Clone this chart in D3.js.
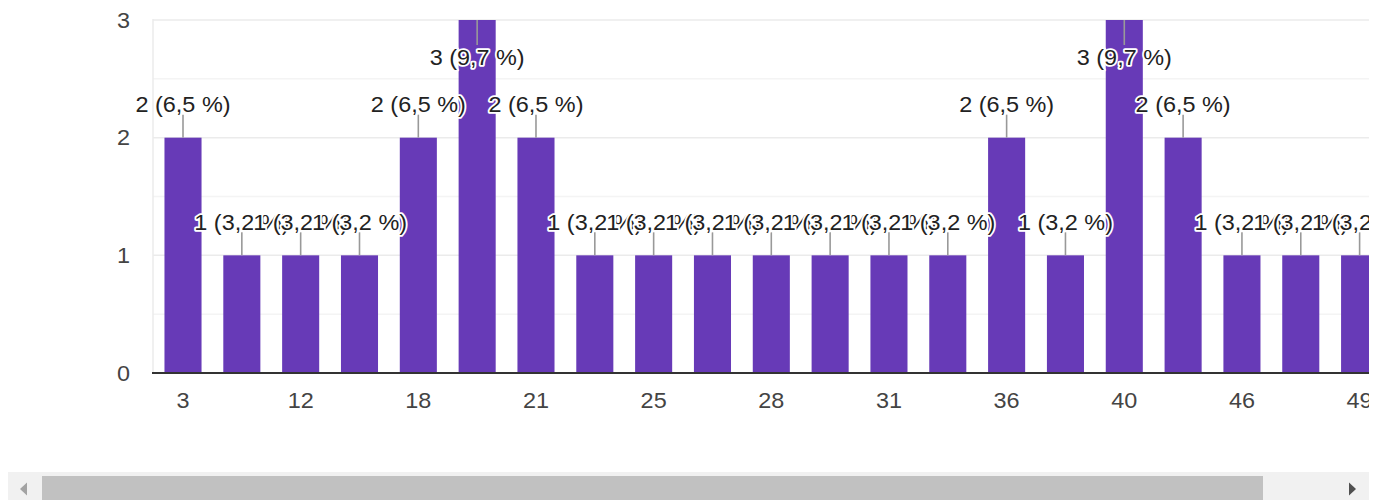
<!DOCTYPE html>
<html>
<head>
<meta charset="utf-8">
<script src="https://d3js.org/d3.v7.min.js"></script>
<style>
  body { margin: 0; background: #fff; }
  text { font-family: Arial, "Liberation Sans", sans-serif; font-size: 21.5px; }
</style>
</head>
<body>
<svg id="chart" width="1385" height="500"></svg>
<script>
// answers (hidden labels in between are guessed) and how many times each was given
var categories = ["3", "10", "12", "15", "18", "20", "21", "22", "25", "27", "28",
                  "30", "31", "35", "36", "38", "40", "45", "46", "48", "49", "50"];
var counts = [2, 1, 1, 1, 2, 3, 2, 1, 1, 1, 1, 1, 1, 1, 2, 1, 3, 2, 1, 1, 1, 1];
var yTicks = [0, 1, 2, 3];
var yMinor = [0.5, 1.5, 2.5];

var total = d3.sum(counts);
var maxCount = d3.max(counts);
var sx = 1.09;   // the source picture is a bit stretched sideways

var svg = d3.select("#chart");

svg.append("defs").append("clipPath").attr("id", "plotClip")
  .append("rect").attr("x", 0).attr("y", 0).attr("width", 1369).attr("height", 440);

var left = 153, step = 58.83, pin = 0.37, pout = 0.195;
var x = d3.scaleBand()
  .domain(categories)
  .range([left, left + step * (categories.length - pin + 2 * pout)])
  .paddingInner(pin)
  .paddingOuter(pout);

var y = d3.scaleLinear().domain([0, 3]).range([373, 20]);

var g = svg.append("g").attr("clip-path", "url(#plotClip)");

// grid
g.selectAll(".minor").data(yMinor).enter().append("line")
  .attr("x1", left).attr("x2", 1369)
  .attr("y1", function(d) { return y(d); }).attr("y2", function(d) { return y(d); })
  .attr("stroke", "#f4f4f4").attr("stroke-width", 1.5);

g.selectAll(".major").data(yTicks.slice(1)).enter().append("line")
  .attr("x1", left).attr("x2", 1369)
  .attr("y1", function(d) { return y(d); }).attr("y2", function(d) { return y(d); })
  .attr("stroke", "#ebebeb").attr("stroke-width", 1.5);

g.append("line")
  .attr("x1", left).attr("x2", left)
  .attr("y1", y(3) - 1).attr("y2", y(0))
  .attr("stroke", "#ebebeb").attr("stroke-width", 1.5);

// bars
g.selectAll(".bar").data(categories).enter().append("rect")
  .attr("x", function(d) { return x(d); })
  .attr("y", function(d, i) { return y(counts[i]); })
  .attr("width", x.bandwidth())
  .attr("height", function(d, i) { return y(0) - y(counts[i]); })
  .attr("fill", "#673ab7");

// baseline
g.append("line")
  .attr("x1", left - 1).attr("x2", 1369)
  .attr("y1", y(0)).attr("y2", y(0))
  .attr("stroke", "#333").attr("stroke-width", 2);

// x tick labels, every other one
g.selectAll(".xt").data(categories.filter(function(d, i) { return i % 2 == 0; })).enter().append("text")
  .attr("transform", function(d) { return "translate(" + (x(d) + x.bandwidth() / 2) + ",408) scale(" + sx + ",1)"; })
  .attr("text-anchor", "middle")
  .attr("fill", "#444")
  .text(function(d) { return d; });

// value labels with leader lines
function pct(v) {
  return d3.format(".1f")(v / total * 100).replace(".", ",");
}

categories.forEach(function(c, i) {
  var v = counts[i];
  var cx = x(c) + x.bandwidth() / 2;
  var top = y(v);
  var inside = (v == maxCount);
  g.append("line")
    .attr("x1", cx).attr("x2", cx)
    .attr("y1", top).attr("y2", inside ? top + 25 : top - 23)
    .attr("stroke", "#999").attr("stroke-width", 1.6);
  g.append("text")
    .attr("transform", "translate(" + cx + "," + (inside ? top + 45 : top - 25.5) + ") scale(" + sx + ",1)")
    .attr("text-anchor", "middle")
    .attr("fill", "#222")
    .attr("stroke", "#fff")
    .attr("stroke-width", 3.5)
    .attr("stroke-linejoin", "round")
    .attr("paint-order", "stroke")
    .text(v + " (" + pct(v) + " %)");
});

// y tick labels
svg.selectAll(".yt").data(yTicks).enter().append("text")
  .attr("transform", function(d) { return "translate(130," + (y(d) + 7.8) + ") scale(" + sx + ",1)"; })
  .attr("text-anchor", "end")
  .attr("fill", "#444")
  .text(function(d) { return d; });

// horizontal scrollbar under the chart
var sb = svg.append("g");
sb.append("rect").attr("x", 8).attr("y", 472).attr("width", 1361).attr("height", 28).attr("fill", "#f1f1f1");
sb.append("rect").attr("x", 42).attr("y", 476).attr("width", 1221).attr("height", 24).attr("fill", "#c1c1c1");
sb.append("path").attr("d", "M20 489 L27 482.5 L27 495.5 Z").attr("fill", "#a3a3a3");
sb.append("path").attr("d", "M1349 482.5 L1356 489 L1349 495.5 Z").attr("fill", "#505050");
</script>
</body>
</html>
